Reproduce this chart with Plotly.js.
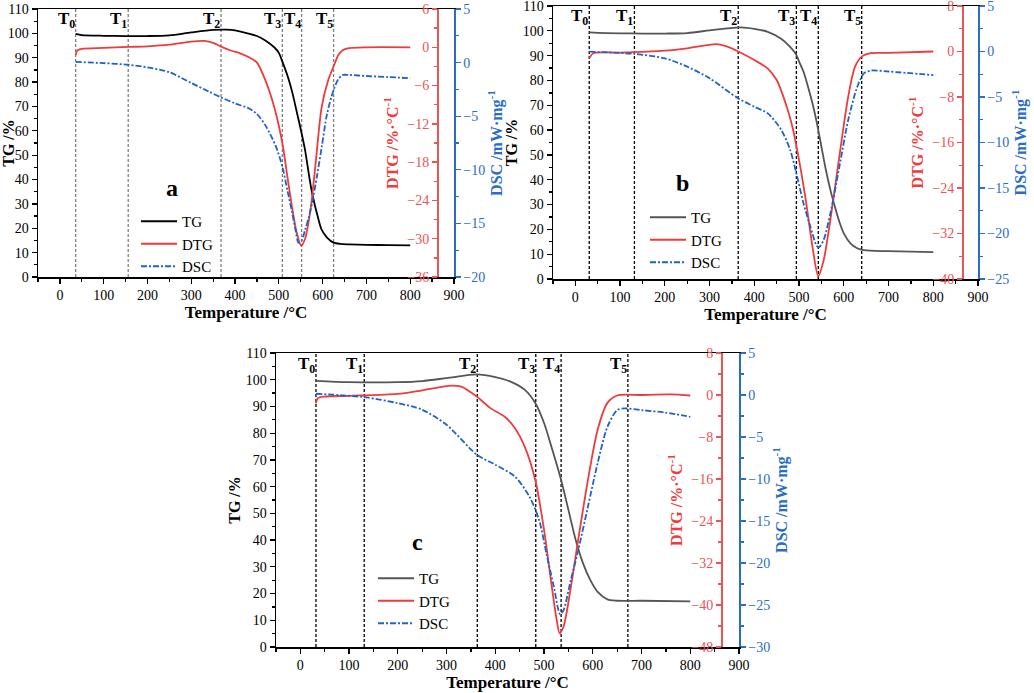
<!DOCTYPE html>
<html>
<head>
<meta charset="utf-8">
<script src="https://cdn.plot.ly/plotly-3.0.1.min.js"></script>
<style>html,body{margin:0;padding:0;background:#fff;}#chart{width:1034px;height:693px;}</style>
</head>
<body>
<div id="chart"></div>
<script>
// ---------------- DATA ----------------
const panelLetters = ['a', 'b', 'c'];
const seriesNames = ['TG', 'DTG', 'DSC'];
const stageLabels = ['T<sub>0</sub>', 'T<sub>1</sub>', 'T<sub>2</sub>', 'T<sub>3</sub>', 'T<sub>4</sub>', 'T<sub>5</sub>'];

// Panel a
const stagesA = [36, 156, 368, 508, 552, 625];
const tempTgA = [36, 50, 100, 150, 200, 250, 300, 350, 380, 400, 433, 450, 470, 490, 500, 508, 520, 530, 540, 552, 560, 570, 576, 590, 598, 610, 625, 640, 660, 700, 750, 800];
const tgA     = [99.8, 99.3, 99.0, 98.9, 98.9, 99.2, 100.4, 101.4, 101.5, 101.2, 99.8, 98.9, 97.0, 94.2, 92.0, 88.4, 82.5, 76.3, 68.5, 59.0, 52.0, 40.5, 34.4, 24.0, 19.3, 16.2, 14.1, 13.6, 13.4, 13.2, 13.1, 13.0];
const tempDtgA = [36, 40, 50, 100, 156, 200, 250, 300, 330, 350, 368, 390, 410, 433, 450, 470, 490, 508, 520, 530, 540, 551, 560, 570, 576, 585, 598, 613, 625, 636, 645, 660, 700, 800];
const dtgA     = [-1.2, -0.5, -0.25, -0.1, 0.05, 0.15, 0.4, 0.9, 1.0, 0.7, 0.1, -0.5, -0.9, -1.6, -2.4, -5.3, -9.5, -15.0, -20.5, -25.0, -28.8, -31.1, -30.0, -26.5, -23.4, -17.5, -9.3, -5.1, -3.0, -1.2, -0.5, -0.15, 0.0, 0.0];
const tempDscA = [36, 100, 156, 200, 250, 300, 340, 368, 400, 433, 450, 470, 493, 508, 520, 530, 538, 545, 552, 560, 568, 576, 587, 598, 610, 625, 635, 645, 660, 700, 750, 800];
const dscA     = [0.06, -0.05, -0.2, -0.45, -0.9, -1.9, -2.7, -3.25, -3.8, -4.3, -4.8, -5.9, -7.8, -9.7, -12.0, -13.9, -15.6, -16.8, -16.6, -15.6, -14.5, -13.1, -10.6, -7.85, -4.8, -2.56, -1.6, -1.16, -1.15, -1.25, -1.35, -1.45];

// Panel b
const stagesB = [31, 132, 364, 494, 543, 640];
const tempTgB = [31, 50, 100, 150, 200, 250, 300, 340, 370, 400, 430, 460, 480, 494, 500, 510, 520, 530, 540, 550, 560, 570, 580, 590, 600, 615, 630, 645, 700, 800];
const tgB     = [99.4, 99.2, 99.0, 98.9, 98.9, 99.1, 100.2, 101.0, 101.4, 100.8, 99.6, 96.8, 93.5, 90.3, 87.6, 83.5, 77.5, 70.8, 62.7, 53.3, 43.9, 35.9, 29.2, 23.1, 18.4, 14.4, 12.4, 11.6, 11.2, 10.8];
const tempDtgB = [31, 40, 100, 200, 250, 315, 340, 364, 400, 430, 450, 470, 485, 500, 515, 530, 543, 555, 570, 590, 610, 625, 640, 660, 700, 800];
const dtgB     = [-1.2, -0.3, -0.2, 0.15, 0.56, 1.3, 0.85, 0.0, -1.5, -3.0, -5.0, -9.1, -13.2, -19.1, -26.1, -34.3, -39.5, -36.7, -29.6, -18.5, -7.9, -2.7, -0.9, -0.3, -0.25, 0.0];
const tempDscB = [31, 132, 200, 250, 300, 364, 400, 430, 460, 480, 494, 510, 525, 540, 545, 555, 570, 590, 610, 630, 645, 660, 700, 800];
const dscB     = [-0.02, -0.27, -0.75, -1.67, -2.95, -5.15, -6.06, -6.8, -8.6, -10.8, -13.4, -16.7, -19.2, -21.4, -21.5, -20.7, -17.8, -12.7, -7.5, -3.9, -2.4, -2.1, -2.2, -2.6];

// Panel c
const stagesC = [32, 131, 363, 483, 535, 672];
const tempTgC = [32, 100, 200, 250, 300, 362, 400, 430, 460, 482, 500, 515, 535, 550, 565, 580, 595, 610, 630, 650, 700, 800];
const tgC     = [99.6, 99.1, 99.1, 99.5, 100.6, 102.0, 101.0, 99.4, 96.3, 91.3, 83.8, 75.0, 62.5, 51.3, 40.0, 31.3, 25.0, 20.6, 17.8, 17.3, 17.3, 17.1];
const tempDtgC = [32, 36, 50, 100, 200, 250, 310, 330, 362, 390, 420, 440, 460, 482, 500, 515, 525, 532, 540, 555, 570, 590, 610, 630, 650, 700, 760, 800];
const dtgC     = [-1.6, -0.6, -0.3, -0.15, 0.2, 0.9, 1.8, 1.6, -0.3, -2.5, -4.2, -6.3, -9.8, -16.2, -25.7, -35.9, -42.3, -45.4, -44.1, -36.6, -27.6, -16.2, -6.6, -1.5, -0.1, 0.0, 0.1, -0.1];
const tempDscC = [32, 130, 200, 250, 300, 362, 400, 440, 470, 490, 505, 520, 533, 540, 555, 570, 590, 610, 630, 650, 665, 700, 750, 800];
const dscC     = [0.15, -0.25, -0.97, -1.76, -3.55, -7.1, -8.3, -9.7, -12.1, -14.9, -18.9, -22.8, -26.1, -25.6, -22.0, -18.5, -13.3, -8.1, -3.8, -1.8, -1.6, -1.8, -2.1, -2.6];

// axis ranges / ticks
const tgRange = [0, 110];
const dtgRanges = [[-36, 6], [-40, 8], [-48, 8]];
const dtgSteps = [6, 8, 8];
const dscRanges = [[-20, 5], [-25, 5], [-30, 5]];
const dscStep = 5;
const tempRange = [-50, 900];
const tempStep = 100;
const letterPos = [[257, 36.5], [240, 38.7], [241, 39.4]];

// ---------------- STYLE / LAYOUT ----------------
const W = 1034, H = 693;
const FONT = 'Liberation Serif, Times New Roman, serif';
const RED = '#ee3b3b', RED_AX = '#e85555';
const BLUE = '#1f63c6', BLUE_AX = '#2a6dc4';
const tgColors = ['#000000', '#555555', '#555555'];
const vlineColors = ['#808080', '#000000', '#000000'];
// pixel boxes [left, right, top, bottom] and red axis pixel x
const boxes = [[38, 454, 9, 277], [553, 978, 6, 279], [276, 739, 353, 647]];
const redAxisPx = [437, 962, 721];
const legendPx = [[136, 205], [645, 201], [373, 562]];
const TICK = 14, TITLE = 16;

const panels = [
  {stages: stagesA, tTg: tempTgA, tg: tgA, tDtg: tempDtgA, dtg: dtgA, tDsc: tempDscA, dsc: dscA},
  {stages: stagesB, tTg: tempTgB, tg: tgB, tDtg: tempDtgB, dtg: dtgB, tDsc: tempDscB, dsc: dscB},
  {stages: stagesC, tTg: tempTgC, tg: tgC, tDtg: tempDtgC, dtg: dtgC, tDsc: tempDscC, dsc: dscC}
];

const traces = [];
const layout = {
  width: W, height: H,
  margin: {l: 0, r: 0, t: 0, b: 0},
  paper_bgcolor: '#fff', plot_bgcolor: 'rgba(0,0,0,0)',
  font: {family: FONT, size: TICK, color: '#000'},
  showlegend: true,
  shapes: [], annotations: []
};

panels.forEach((p, i) => {
  const xId = i === 0 ? 'x' : 'x' + (i + 1);
  const xKey = i === 0 ? 'xaxis' : 'xaxis' + (i + 1);
  const yTg = 3 * i + 1, yDtg = 3 * i + 2, yDsc = 3 * i + 3;
  const yId = n => n === 1 ? 'y' : 'y' + n;
  const yKey = n => n === 1 ? 'yaxis' : 'yaxis' + n;
  const legKey = i === 0 ? 'legend' : 'legend' + (i + 1);
  const [L, R, T, B] = boxes[i];
  const xd = [L / W, R / W];
  const yd = [1 - B / H, 1 - T / H];

  traces.push({x: p.tTg, y: p.tg, xaxis: xId, yaxis: yId(yTg), name: seriesNames[0], legend: legKey,
    mode: 'lines', line: {color: tgColors[i], width: 1.8, shape: 'spline', smoothing: 0.8}});
  traces.push({x: p.tDtg, y: p.dtg, xaxis: xId, yaxis: yId(yDtg), name: seriesNames[1], legend: legKey,
    mode: 'lines', line: {color: RED, width: 1.8, shape: 'spline', smoothing: 0.8}});
  traces.push({x: p.tDsc, y: p.dsc, xaxis: xId, yaxis: yId(yDsc), name: seriesNames[2], legend: legKey,
    mode: 'lines', line: {color: BLUE, width: 1.8, shape: 'spline', smoothing: 0.8, dash: '6px,2px,2px,2px'}});

  layout[xKey] = {
    domain: xd, anchor: yId(yTg), range: tempRange, tick0: 0, dtick: tempStep,
    ticks: 'outside', ticklen: 5, tickwidth: 1.3, tickcolor: '#000',
    minor: {dtick: tempStep / 2, ticks: 'outside', ticklen: 3, tickcolor: '#000', showgrid: false},
    showline: true, linecolor: '#000', linewidth: 1.5, mirror: true,
    showgrid: false, zeroline: false, automargin: false, ticklabeloverflow: 'allow',
    tickfont: {size: TICK, family: FONT, color: '#000'},
    title: {text: '<b>Temperature /°C</b>', font: {size: 17, family: FONT, color: '#000'}, standoff: 3}
  };
  layout[yKey(yTg)] = {
    domain: yd, anchor: xId, range: tgRange, dtick: 10, tick0: 0,
    ticks: 'outside', ticklen: 5, tickwidth: 1.3, tickcolor: '#000',
    minor: {dtick: 5, ticks: 'outside', ticklen: 3, tickcolor: '#000', showgrid: false},
    showline: true, linecolor: '#000', linewidth: 1.5,
    showgrid: false, zeroline: false, automargin: false, ticklabeloverflow: 'allow',
    tickfont: {size: TICK, family: FONT, color: '#000'},
    title: {text: '<b>TG /%</b>', font: {size: TITLE, family: FONT, color: '#000'}, standoff: 1}
  };
  layout[yKey(yDtg)] = {
    overlaying: yId(yTg), anchor: 'free', side: 'left',
    position: redAxisPx[i] / W,
    range: dtgRanges[i], dtick: dtgSteps[i], tick0: 0,
    ticks: 'outside', ticklen: 5, tickwidth: 1.3, tickcolor: RED_AX,
    minor: {dtick: dtgSteps[i] / 2, ticks: 'outside', ticklen: 3, tickcolor: RED_AX, showgrid: false},
    showline: true, linecolor: RED_AX, linewidth: 1.5,
    showgrid: false, zeroline: false, automargin: false, ticklabeloverflow: 'allow',
    tickfont: {size: TICK, family: FONT, color: RED_AX},
    title: {text: '<b>DTG /%·°C<sup>-1</sup></b>', font: {size: TITLE, family: FONT, color: RED}, standoff: 3}
  };
  layout[yKey(yDsc)] = {
    overlaying: yId(yTg), anchor: xId, side: 'right',
    range: dscRanges[i], dtick: dscStep, tick0: 0,
    ticks: 'outside', ticklen: 5, tickwidth: 1.3, tickcolor: BLUE_AX,
    minor: {dtick: dscStep / 2, ticks: 'outside', ticklen: 3, tickcolor: BLUE_AX, showgrid: false},
    showline: true, linecolor: BLUE_AX, linewidth: 1.5,
    showgrid: false, zeroline: false, automargin: false, ticklabeloverflow: 'allow',
    tickfont: {size: TICK, family: FONT, color: BLUE_AX},
    title: {text: '<b>DSC /mW·mg<sup>-1</sup></b>', font: {size: TITLE, family: FONT, color: BLUE_AX}, standoff: 3}
  };

  layout[legKey] = {
    x: legendPx[i][0] / W, y: 1 - legendPx[i][1] / H, xref: 'paper', yref: 'paper',
    xanchor: 'left', yanchor: 'top', bgcolor: 'rgba(0,0,0,0)', borderwidth: 0,
    font: {size: 15, family: FONT, color: '#000'}, traceorder: 'normal', tracegroupgap: 0,
    itemwidth: 36
  };

  p.stages.forEach((s, k) => {
    layout.shapes.push({type: 'line', xref: xId, yref: yId(yTg), x0: s, x1: s, y0: tgRange[0], y1: tgRange[1],
      line: {color: vlineColors[i], width: 1.3, dash: '3px,2px'}, layer: 'below'});
    layout.annotations.push({xref: xId, yref: yId(yTg), x: s, y: 105.5, text: '<b>' + stageLabels[k] + '</b>',
      showarrow: false, xanchor: 'right', yanchor: 'middle', xshift: 1,
      font: {size: 17, family: FONT, color: '#000'}});
  });
  layout.annotations.push({xref: xId, yref: yId(yTg), x: letterPos[i][0], y: letterPos[i][1],
    text: '<b>' + panelLetters[i] + '</b>', showarrow: false, xanchor: 'center', yanchor: 'middle',
    font: {size: 24, family: FONT, color: '#000'}});
});

Plotly.newPlot('chart', traces, layout, {staticPlot: true, displayModeBar: false});
</script>
</body>
</html>
